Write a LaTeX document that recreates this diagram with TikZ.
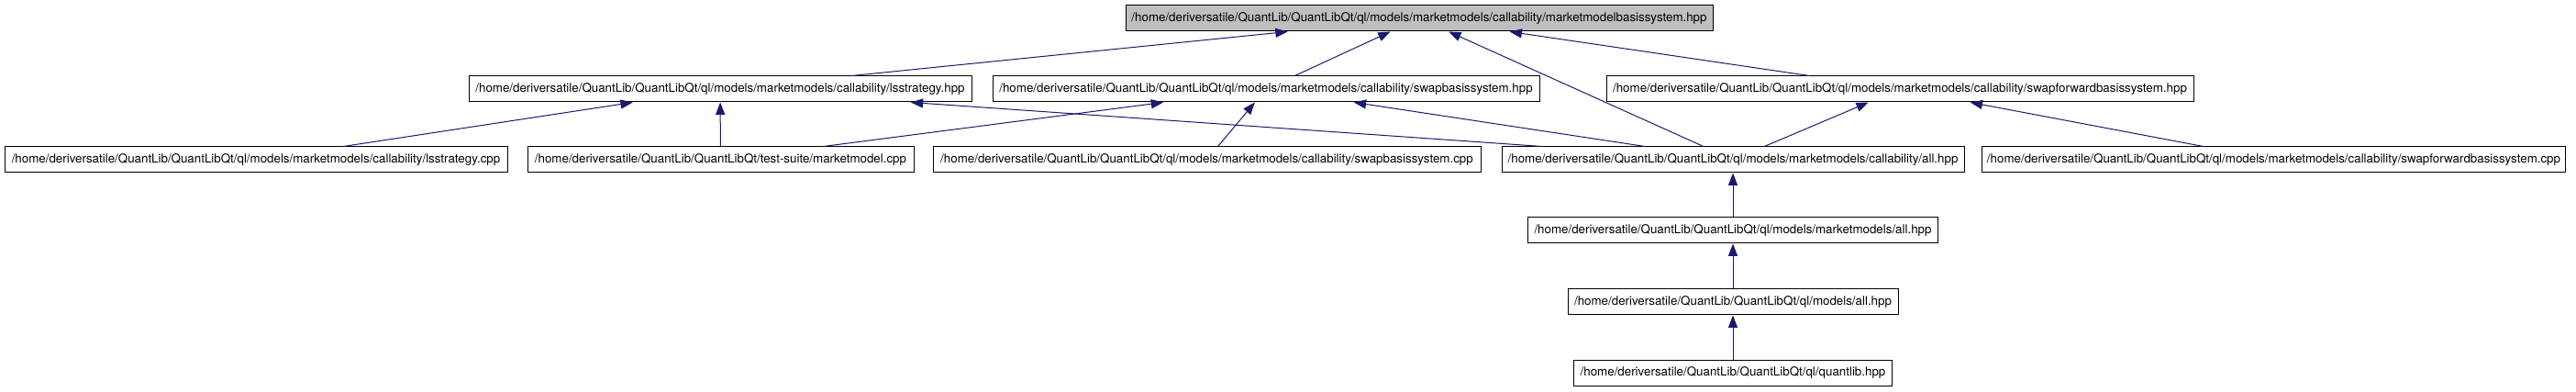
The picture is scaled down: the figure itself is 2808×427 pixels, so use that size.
\documentclass[tikz,border=0pt]{standalone}
\usepackage{fontspec}
\setmainfont{TeX Gyre Heros}
\usetikzlibrary{arrows.meta}

\definecolor{midnightblue}{HTML}{191970}
\tikzset{
  every file/.style={draw=black, line width=0.75pt, rectangle, inner xsep=4pt,
    minimum height=21pt, font=\fontsize{10pt}{12pt}\selectfont},
  file root/.style={fill=black!25},
  include edge/.style={draw=midnightblue, line width=0.75pt}
}

\begin{document}
\begin{tikzpicture}[x=0.75pt, y=-0.75pt, >={Triangle[length=10pt, width=7.5pt]}]

  \useasboundingbox (0,0) rectangle (2808,427);

  % top level
  \node [every file, file root, minimum width=480pt] (root) at (1547,20)
    {/home/deriversatile/QuantLib/QuantLibQt/ql/models/marketmodels/callability/marketmodelbasissystem.hpp};

  % second level
  \node [every file, minimum width=411pt] (lshpp) at (785,97)
    {/home/deriversatile/QuantLib/QuantLibQt/ql/models/marketmodels/callability/lsstrategy.hpp};
  \node [every file, minimum width=447pt] (sbhpp) at (1380,97)
    {/home/deriversatile/QuantLib/QuantLibQt/ql/models/marketmodels/callability/swapbasissystem.hpp};
  \node [every file, minimum width=480pt] (sfhpp) at (2071,97)
    {/home/deriversatile/QuantLib/QuantLibQt/ql/models/marketmodels/callability/swapforwardbasissystem.hpp};

  % third level
  \node [every file, minimum width=411pt] (lscpp) at (279,174)
    {/home/deriversatile/QuantLib/QuantLibQt/ql/models/marketmodels/callability/lsstrategy.cpp};
  \node [every file, minimum width=315.75pt] (mmcpp) at (785.5,174)
    {/home/deriversatile/QuantLib/QuantLibQt/test-suite/marketmodel.cpp};
  \node [every file, minimum width=447.75pt] (sbcpp) at (1315.5,174)
    {/home/deriversatile/QuantLib/QuantLibQt/ql/models/marketmodels/callability/swapbasissystem.cpp};
  \node [every file, minimum width=378pt] (callall) at (1889,174)
    {/home/deriversatile/QuantLib/QuantLibQt/ql/models/marketmodels/callability/all.hpp};
  \node [every file, minimum width=471.75pt] (sfcpp) at (2478.5,174)
    {/home/deriversatile/QuantLib/QuantLibQt/ql/models/marketmodels/callability/swapforwardbasissystem.cpp};

  % chain down to quantlib.hpp
  \node [every file, minimum width=335.25pt] (mmall) at (1889,251)
    {/home/deriversatile/QuantLib/QuantLibQt/ql/models/marketmodels/all.hpp};
  \node [every file, minimum width=270pt] (modall) at (1889,329)
    {/home/deriversatile/QuantLib/QuantLibQt/ql/models/all.hpp};
  \node [every file, minimum width=260.25pt] (qlib) at (1889,406)
    {/home/deriversatile/QuantLib/QuantLibQt/ql/quantlib.hpp};

  % includes
  \foreach \from/\to in {lshpp/root, sbhpp/root, sfhpp/root, callall/root,
      lscpp/lshpp, mmcpp/lshpp, callall/lshpp,
      mmcpp/sbhpp, sbcpp/sbhpp, callall/sbhpp,
      callall/sfhpp, sfcpp/sfhpp,
      mmall/callall, modall/mmall, qlib/modall}
    \draw [include edge, ->] (\from) -- (\to);

\end{tikzpicture}
\end{document}
